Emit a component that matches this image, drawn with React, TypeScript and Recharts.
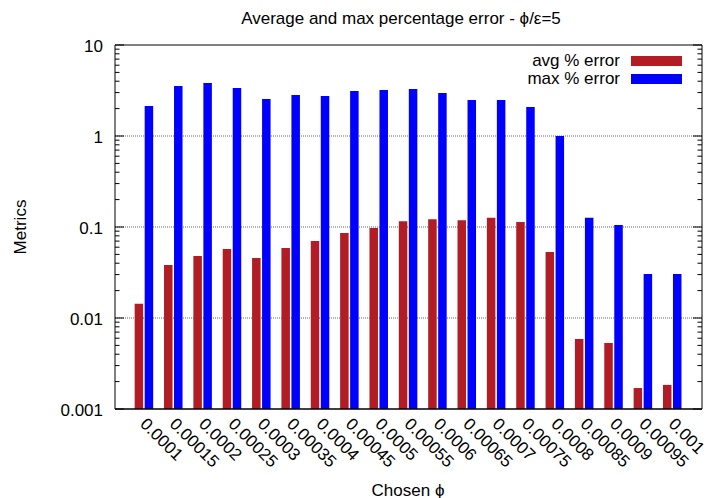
import React from 'react';
import { BarChart, Bar, XAxis, YAxis, CartesianGrid, Legend, Label } from 'recharts';

const categories = ['0.0001', '0.00015', '0.0002', '0.00025', '0.0003', '0.00035', '0.0004', '0.00045', '0.0005', '0.00055', '0.0006', '0.00065', '0.0007', '0.00075', '0.0008', '0.00085', '0.0009', '0.00095', '0.001'];
const avgError = [0.0143, 0.0382, 0.048, 0.0573, 0.0456, 0.0588, 0.0702, 0.086, 0.0975, 0.116, 0.122, 0.119, 0.126, 0.1135, 0.0531, 0.00588, 0.00531, 0.0017, 0.00184];
const maxError = [2.14, 3.54, 3.82, 3.37, 2.55, 2.82, 2.75, 3.12, 3.2, 3.28, 2.97, 2.49, 2.49, 2.08, 1.0, 0.126, 0.105, 0.0305, 0.0305];
const majorTicks = [0.001, 0.01, 0.1, 1, 10];
const majorLabels = ['0.001', '0.01', '0.1', '1', '10'];
const minorMultipliers = [2, 3, 4, 5, 6, 7, 8, 9];
const gridValues = [0.01, 0.1, 1];

const TITLE = 'Average and max percentage error - \u03d5/\u03b5=5';
const X_LABEL = 'Chosen \u03d5';
const Y_LABEL = 'Metrics';

const data = categories.map((c, i) => ({ phi: c, avg: avgError[i], max: maxError[i] }));
const yTicks: number[] = [];
majorTicks.forEach((m, i) => {
  yTicks.push(m);
  if (i < majorTicks.length - 1) minorMultipliers.forEach((k) => yTicks.push(m * k));
});

const FONT = '"Liberation Sans", Arial, Helvetica, sans-serif';
const FS = 17;
const W = 707;
const H = 498;

const majorIndex = (v: number) => majorTicks.findIndex((m) => Math.abs(v - m) / m < 1e-6);

const LeftTick = (props: any) => {
  const { x, y, payload } = props;
  const idx = majorIndex(payload.value);
  const len = idx >= 0 ? 9 : 4.5;
  return (
    <g>
      <line x1={x} y1={y} x2={x + len} y2={y} stroke="#000" strokeWidth={1} />
      {idx >= 0 && (
        <text x={x - 12} y={y + 1} textAnchor="end" dominantBaseline="central" fontSize={FS} fill="#000" fontFamily={FONT}>
          {majorLabels[idx]}
        </text>
      )}
    </g>
  );
};

const RightTick = (props: any) => {
  const { x, y, payload } = props;
  const idx = majorIndex(payload.value);
  const len = idx >= 0 ? 9 : 4.5;
  return <line x1={x} y1={y} x2={x - len} y2={y} stroke="#000" strokeWidth={1} />;
};

const BottomTick = (props: any) => {
  const { x, y, payload } = props;
  const px = x - 5;
  const py = y + 16;
  return (
    <text x={px} y={py} transform={`rotate(45 ${px} ${py})`} textAnchor="start" fontSize={FS} fill="#000" fontFamily={FONT}>
      {payload.value}
    </text>
  );
};

const LegendContent = (props: any) => {
  const payload = props.payload || [];
  return (
    <div style={{ position: 'relative', width: W, height: 100, fontFamily: FONT }}>
      {payload.map((p: any, i: number) => (
        <React.Fragment key={i}>
          <div
            style={{
              position: 'absolute',
              right: W - 620,
              top: 61 + 18 * i - 10,
              fontSize: FS,
              lineHeight: '20px',
              whiteSpace: 'nowrap',
              color: '#000',
            }}
          >
            {p.value}
          </div>
          <div style={{ position: 'absolute', left: 631, top: 56 + 18 * i, width: 51, height: 10, background: p.color }} />
        </React.Fragment>
      ))}
    </div>
  );
};

export default function App() {
  return (
    <div style={{ position: 'absolute', left: 0, top: 0, width: W, height: H, background: '#fff', fontFamily: FONT }}>
      <BarChart
        width={W}
        height={H}
        data={data}
        margin={{ top: 40, right: 0, bottom: 0, left: 55 }}
        barSize={8.5}
        barGap={1.5}
        style={{ fontFamily: FONT }}
      >
        <CartesianGrid vertical={false} horizontalValues={gridValues} stroke="#666" strokeDasharray="1 1" />
        <XAxis
          dataKey="phi"
          type="category"
          height={89}
          interval={0}
          padding={{ left: 14.675, right: 14.675 }}
          tickLine={false}
          tickSize={0}
          tickMargin={0}
          axisLine={{ stroke: '#000', strokeWidth: 1.5 }}
          tick={<BottomTick />}
        >
          <Label
            content={() => (
              <text x={408} y={490} textAnchor="middle" dominantBaseline="central" fontSize={FS} fill="#000" fontFamily={FONT}>
                {X_LABEL}
              </text>
            )}
          />
        </XAxis>
        <XAxis
          xAxisId="top"
          orientation="top"
          dataKey="phi"
          type="category"
          height={5}
          tick={false}
          tickLine={false}
          axisLine={{ stroke: '#000' }}
        >
          <Label
            content={() => (
              <text x={401} y={24} textAnchor="middle" fontSize={FS} fill="#000" fontFamily={FONT}>
                {TITLE}
              </text>
            )}
          />
        </XAxis>
        <YAxis
          type="number"
          scale="log"
          domain={[0.001, 10]}
          allowDataOverflow
          ticks={yTicks}
          interval={0}
          width={60}
          tickLine={false}
          tickSize={0}
          tickMargin={0}
          axisLine={{ stroke: '#000' }}
          tick={<LeftTick />}
        >
          <Label
            content={() => (
              <text x={20} y={227} transform="rotate(-90 20 227)" textAnchor="middle" dominantBaseline="central" fontSize={FS} fill="#000" fontFamily={FONT}>
                {Y_LABEL}
              </text>
            )}
          />
        </YAxis>
        <YAxis
          yAxisId="right"
          orientation="right"
          type="number"
          scale="log"
          domain={[0.001, 10]}
          allowDataOverflow
          ticks={yTicks}
          interval={0}
          width={5}
          tickLine={false}
          tickSize={0}
          tickMargin={0}
          axisLine={{ stroke: '#000' }}
          tick={<RightTick />}
        />
        <Legend
          layout="vertical"
          align="center"
          verticalAlign="middle"
          wrapperStyle={{ left: 0, top: 0, width: W, height: 100 }}
          content={<LegendContent />}
        />
        <Bar dataKey="avg" name="avg % error" fill="#b21c24" isAnimationActive={false} />
        <Bar dataKey="max" name="max % error" fill="#0000ff" isAnimationActive={false} />
      </BarChart>
    </div>
  );
}
